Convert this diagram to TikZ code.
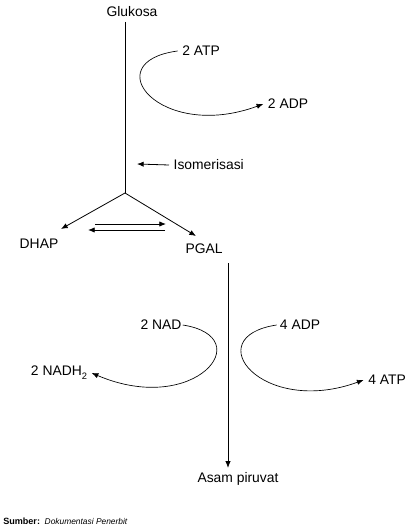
\documentclass[tikz,border=0pt]{standalone}
\usepackage{fontspec}
\setmainfont{Liberation Sans}
\usetikzlibrary{arrows.meta}

\begin{document}
\begin{tikzpicture}[
    x=0.75pt, y=-0.75pt,
    label/.style={
        inner sep=1pt, outer sep=2.5pt, font=\fontsize{10.4}{12}\selectfont
    },
    flow/.style={
        draw, line width=0.6pt, -{Latex[length=5pt,width=4pt]}
    },
    cycle/.style={
        draw, line width=0.5pt, -{Latex[length=5pt,width=4pt]}
    }
]
    \useasboundingbox (0,0) rectangle (409,527);

    % --- nodes ---
    \node [label] (glukosa) at (132,12) {Glukosa};
    \node [label] (atp1) at (201,51) {2 ATP};
    \node [label] (adp1) at (288,104) {2 ADP};
    \node [label, anchor=west] (iso) at (169,165) {Isomerisasi};
    \node [label] (dhap) at (39,244) {DHAP};
    \node [label] (pgal) at (204,249) {PGAL};
    \node [label, outer sep=0pt] (nad) at (161,325) {2 NAD};
    \node [label] (nadh) at (59,373) {2 NADH\raisebox{-0.55ex}{\fontsize{7}{8}\selectfont 2}};
    \node [label, outer sep=1.5pt] (adp2) at (300,325) {4 ADP};
    \node [label] (atp2) at (387,380) {4 ATP};
    \node [label] (piruvat) at (238,479) {Asam piruvat};
    \node [anchor=west, inner sep=0pt, font=\fontsize{6.3}{7}\selectfont] (sumber) at (3,521)
        {{\fontsize{6.8}{7}\selectfont\bfseries Sumber:}\ \ \itshape Dokumentasi Penerbit};

    \coordinate (split) at (125,193);
    \coordinate (isotip) at (137,164);
    \coordinate (dhapin) at (61,229);
    \coordinate (pgalin) at (196,236);
    \coordinate (eqa) at (95,224);
    \coordinate (eqb) at (166,224);
    \coordinate (eqc) at (165,230);
    \coordinate (eqd) at (88,230);
    \coordinate (pgalout) at (228,263);

    % --- main path ---
    \path [draw, line width=0.6pt] (glukosa.south -| split) -- (split);
    \path [flow] (iso.west) -- (isotip);
    \path [flow] (split) -- (dhapin);
    \path [flow] (split) -- (pgalin);
    \path [flow] (eqa) -- (eqb);
    \path [flow] (eqc) -- (eqd);
    \path [flow] (pgalout) -- (pgalout |- piruvat.north);

    % --- cycles ---
    \path [cycle] (atp1.west) .. controls (95,62) and (160,142) .. (adp1.west);
    \path [cycle] (nad.east) .. controls (260,337) and (195,417) .. (nadh.east);
    \path [cycle] (adp2.west) .. controls (197,337) and (262,417) .. (atp2.west);

\end{tikzpicture}
\end{document}
